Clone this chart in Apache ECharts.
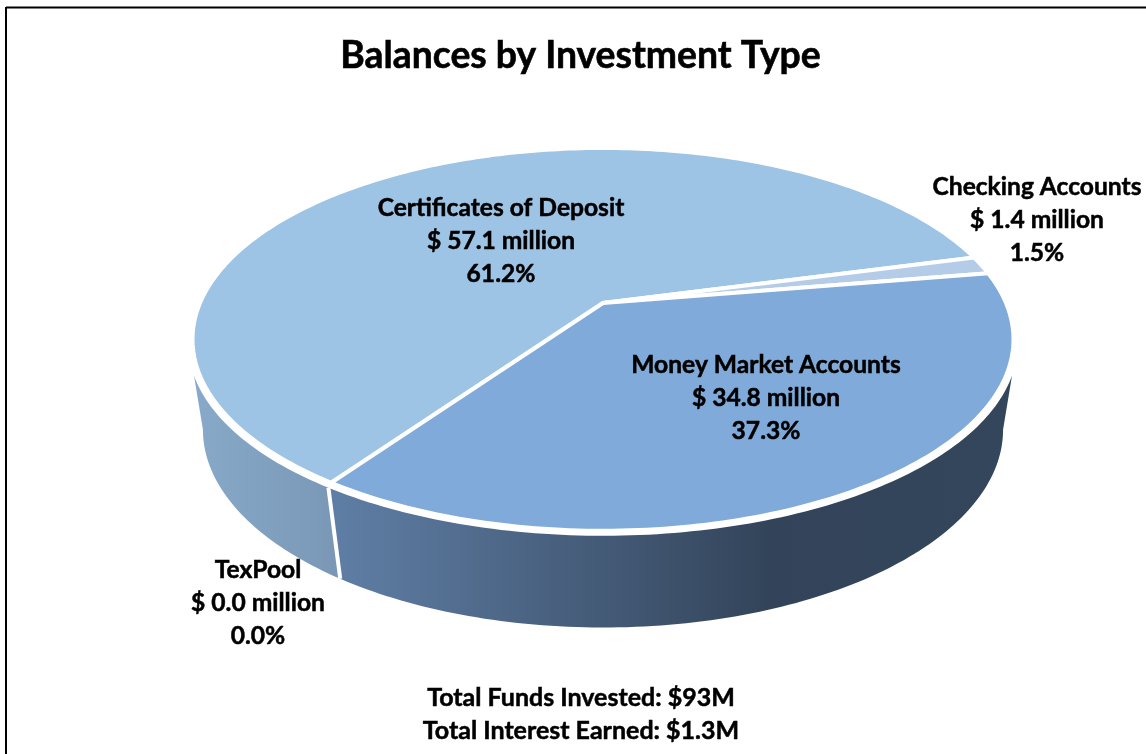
<!DOCTYPE html>
<html>
<head>
<meta charset="utf-8">
<title>Balances by Investment Type</title>
<style>
	html, body { margin: 0; padding: 0; background: #fff; overflow: hidden; }
	#chart { width: 1146px; height: 754px; }
</style>
<script src="https://cdn.jsdelivr.net/npm/echarts@6/dist/echarts.min.js"></script>
</head>
<body>
<div id="chart"></div>
<script>
// Données (en millions de dollars)
var categories = ['Certificates of Deposit', 'Checking Accounts', 'Money Market Accounts', 'TexPool'];
var balances = [57.1, 1.4, 34.8, 0.0];
var titleText = 'Balances by Investment Type';
var footerLines = ['Total Funds Invested: $93M', 'Total Interest Earned: $1.3M'];

// Mise en page et couleurs
var topColors = ['#9dc3e5', '#b5cce8', '#7faad9', '#9dc3e5'];
var labelCenters = [[501, 208], [1037, 187], [766, 365], [258, 570]];
var startAngle = 214.7;
var seamTwist = -0.7; // la séparation du mur penche un peu vers le centre
var FONT = 'Lato, "Open Sans", sans-serif';

var total = balances.reduce(function (a, b) { return a + b; }, 0);

// Angles de chaque part, dans le sens horaire depuis le haut
var sliceAngles = [];
var cursor = startAngle;
for (var i = 0; i < balances.length; i++) {
	var sweep = balances[i] / total * 360;
	sliceAngles.push([cursor, cursor + sweep]);
	cursor += sweep;
}

// Projection en perspective du disque du dessus et du disque du dessous
var topDisc = { cx: 603, cy: 303, a: 403, b: 184.5, k: 0.19 };
var bottomDisc = { cx: 603, cy: 390, a: 392, b: 190, k: 0.2 };
var rimDisc = { cx: 603, cy: 308, a: 407, b: 184.5, k: 0.19 };

function project(disc, deg) {
	var t = deg * Math.PI / 180;
	var u = Math.sin(t), v = -Math.cos(t);
	var w = 1 - disc.k * v;
	return [disc.cx + disc.a * u / w, disc.cy + disc.b * v / w];
}

function arc(disc, from, to) {
	var pts = [];
	var n = Math.max(2, Math.ceil(Math.abs(to - from)));
	for (var j = 0; j <= n; j++) {
		pts.push(project(disc, from + (to - from) * j / n));
	}
	return pts;
}

// Côté du camembert : seules les parties visibles à l'avant
var wallStops = [
	[[0, '#88a9c9'], [1, '#7a98b6']],
	null,
	[[0, '#5f7ea5'], [0.64, '#33445a'], [1, '#34465c']],
	null
];

function renderWall(params) {
	var idx = params.dataIndex;
	var stops = wallStops[idx];
	var from = sliceAngles[idx][0] % 360, to = sliceAngles[idx][1] % 360;
	if (!stops) return null;
	// limites visibles du mur
	var seamTop, seamBottom;
	if (idx === 0) { // de la séparation jusqu'au bord gauche
		seamTop = arc(rimDisc, from, 250);
		seamBottom = arc(bottomDisc, 258.5, from + seamTwist);
	} else { // du bord droit jusqu'à la séparation
		seamTop = arc(rimDisc, 110, to === 0 ? 360 : to);
		seamBottom = arc(bottomDisc, to + seamTwist, 101.5);
	}
	var pts = seamTop.concat(seamBottom);
	var x0 = idx === 0 ? 194 : 335, x1 = idx === 0 ? 335 : 1012;
	var children = [{
		type: 'polygon',
		shape: { points: pts },
		style: {
			fill: new echarts.graphic.LinearGradient(x0, 0, x1, 0, stops.map(function (s) {
				return { offset: s[0], color: s[1] };
			}), true)
		}
	}];
	if (idx === 0) {
		var sepA = project(rimDisc, from), sepB = project(bottomDisc, from + seamTwist);
		children.push({
			type: 'line',
			shape: { x1: sepA[0], y1: sepA[1], x2: sepB[0], y2: sepB[1] },
			style: { stroke: '#fff', lineWidth: 4 },
			z2: 5
		});
	}
	return { type: 'group', children: children };
}

// Le centre du disque correspond au point (u = 0, v = 0) de la projection
function renderTop(params) {
	var idx = params.dataIndex;
	var range = sliceAngles[idx];
	if (balances[idx] <= 0) return null;
	var pts = [[topDisc.cx, topDisc.cy]].concat(arc(topDisc, range[0], range[1]));
	return {
		type: 'polygon',
		shape: { points: pts },
		style: { fill: topColors[idx], stroke: '#fff', lineWidth: 4, lineJoin: 'miter' }
	};
}

function renderLabel(params) {
	var idx = params.dataIndex;
	var lines = [
		categories[idx],
		'$ ' + balances[idx].toFixed(1) + ' million',
		(balances[idx] / total * 100).toFixed(1) + '%'
	];
	return {
		type: 'group',
		children: lines.map(function (line, n) {
			return {
				type: 'text',
				style: {
					text: line,
					x: labelCenters[idx][0],
					y: labelCenters[idx][1] + n * 32.8,
					align: 'center',
					verticalAlign: 'middle',
					fill: '#000',
					stroke: '#000',
					lineWidth: 0.5,
					font: 'bold 24.6px ' + FONT
				}
			};
		})
	};
}

var seriesData = balances.map(function (v) { return [v]; });

var chart = echarts.init(document.getElementById('chart'), null, { renderer: 'canvas' });
chart.setOption({
	animation: false,
	backgroundColor: '#fff',
	title: [{
		text: titleText,
		left: 575.5,
		top: 32,
		textAlign: 'center',
		textStyle: { fontFamily: FONT, fontWeight: 'bold', fontSize: 37.3, color: '#000', textBorderColor: '#000', textBorderWidth: 0.6 }
	}, {
		text: footerLines.join('\n'),
		left: 576,
		top: 676,
		textAlign: 'center',
		textStyle: { fontFamily: FONT, fontWeight: 'bold', fontSize: 25, lineHeight: 33, color: '#000', textBorderColor: '#000', textBorderWidth: 0.5 }
	}],
	graphic: [
		{ type: 'line', shape: { x1: 6, y1: 7.5, x2: 1146, y2: 7.5 }, style: { stroke: '#000', lineWidth: 2 } },
		{ type: 'line', shape: { x1: 6, y1: 7, x2: 6, y2: 754 }, style: { stroke: '#000', lineWidth: 2 } }
	],
	series: [
		{ type: 'custom', coordinateSystem: 'none', z: 1, data: seriesData, renderItem: renderWall, silent: true },
		{ type: 'custom', coordinateSystem: 'none', z: 2, data: seriesData, renderItem: renderTop, silent: true },
		{ type: 'custom', coordinateSystem: 'none', z: 3, data: seriesData, renderItem: renderLabel, silent: true }
	]
});
</script>
</body>
</html>
